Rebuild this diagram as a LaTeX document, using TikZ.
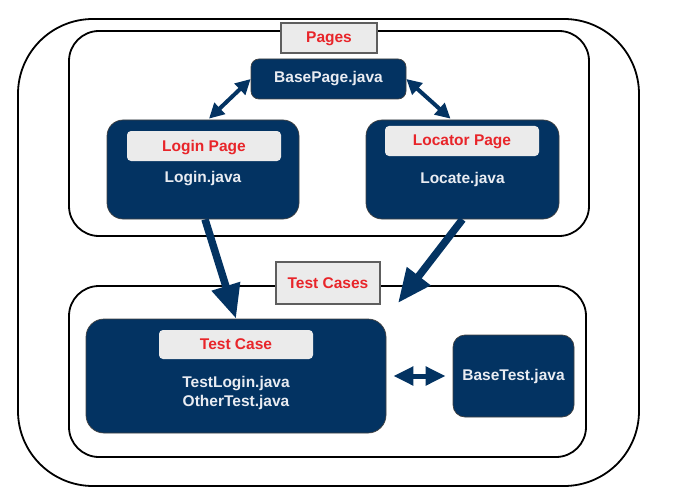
\documentclass[tikz,border=0pt]{standalone}
\usepackage{fontspec}
\setmainfont{Liberation Sans}
\usetikzlibrary{arrows.meta,positioning,calc}
\definecolor{navy}{HTML}{033362}
\definecolor{labelred}{HTML}{E8252A}
\definecolor{labelgray}{HTML}{EBEBEB}
\definecolor{edgegray}{HTML}{5E5E5E}
\definecolor{javatext}{HTML}{E9ECF2}

\begin{document}
\begin{tikzpicture}[x=1pt,y=-1pt,
    frame/.style={draw=black,line width=1.8pt,rounded corners=#1},
    block/.style={fill=navy,draw=black!75,line width=0.7pt,rounded corners=#1,inner sep=0pt},
    javatxt/.style={text=javatext,font=\fontsize{15.5}{19}\selectfont\bfseries,align=center},
    tag/.style={fill=labelgray,rounded corners=4pt,inner sep=0pt,text height=11pt,text depth=1pt,text=labelred,font=\fontsize{15.5}{18}\selectfont\bfseries},
    title/.style={fill=labelgray,draw=edgegray,line width=2pt,inner sep=0pt,text height=11pt,text depth=1pt,text=labelred,font=\fontsize{15.5}{18}\selectfont\bfseries},
    dbl/.style={{Triangle[length=15pt,width=15pt]}-{Triangle[length=15pt,width=15pt]},navy,line width=4pt},
    big/.style={-{Triangle[length=34pt,width=28pt]},navy,line width=7.5pt}]
    \useasboundingbox (0,0) rectangle (674,500);

    % Frames
    \draw[frame=75pt] (18,19) rectangle (639,486);
    \draw[frame=30pt] (69,31) rectangle (589,236);
    \draw[frame=30pt] (69,286) rectangle (586,457);

    % Pages
    \node[title,minimum width=96pt,minimum height=30pt] (pageslbl) at (329,38) {Pages};
    \node[block=8pt,minimum width=155pt,minimum height=40pt,javatxt] (basepage) at (328.5,79) {BasePage.java};

    \node[block=16pt,minimum width=192pt,minimum height=99pt] (login) at (203,169.5) {};
    \node[tag,minimum width=154pt,minimum height=30pt] (loginlbl) at (204,146) {Login Page};
    \node[javatxt] (loginjava) at (203,179) {Login.java};

    \node[block=16pt,minimum width=193pt,minimum height=99pt] (locator) at (462.5,169.5) {};
    \node[tag,minimum width=154pt,minimum height=30pt] (locatorlbl) at (462,141) {Locator Page};
    \node[javatxt] (locatejava) at (462.5,179) {Locate.java};

    % Test Cases
    \node[title,minimum width=104pt,minimum height=42pt] (testslbl) at (328,283) {Test Cases};
    \node[block=18pt,minimum width=300pt,minimum height=114pt] (testcase) at (236,376) {};
    \node[tag,minimum width=154pt,minimum height=29pt] (testcaselbl) at (236,344.5) {Test Case};
    \node[javatxt] (testjava) at (236,393) {TestLogin.java\\OtherTest.java};

    \node[block=12pt,minimum width=121pt,minimum height=82pt,javatxt] (basetest) at (513.5,376) {BaseTest.java};

    % Arrows
    \draw[dbl] (basepage.west) -- ($(login.north)+(6,-1)$);
    \draw[dbl] (basepage.east) -- ($(locator.north)+(-12,-1)$);
    \draw[dbl,line width=5pt,{Triangle[length=20pt,width=18pt]}-{Triangle[length=20pt,width=18pt]},shorten <=7pt,shorten >=7pt] (testcase.east) -- (basetest.west);

    \coordinate (casetip) at (398,303);
    \draw[big] ($(login.south)+(2,0)$) -- (testcase.north);
    \draw[big] (locator.south) -- (casetip);
\end{tikzpicture}
\end{document}
